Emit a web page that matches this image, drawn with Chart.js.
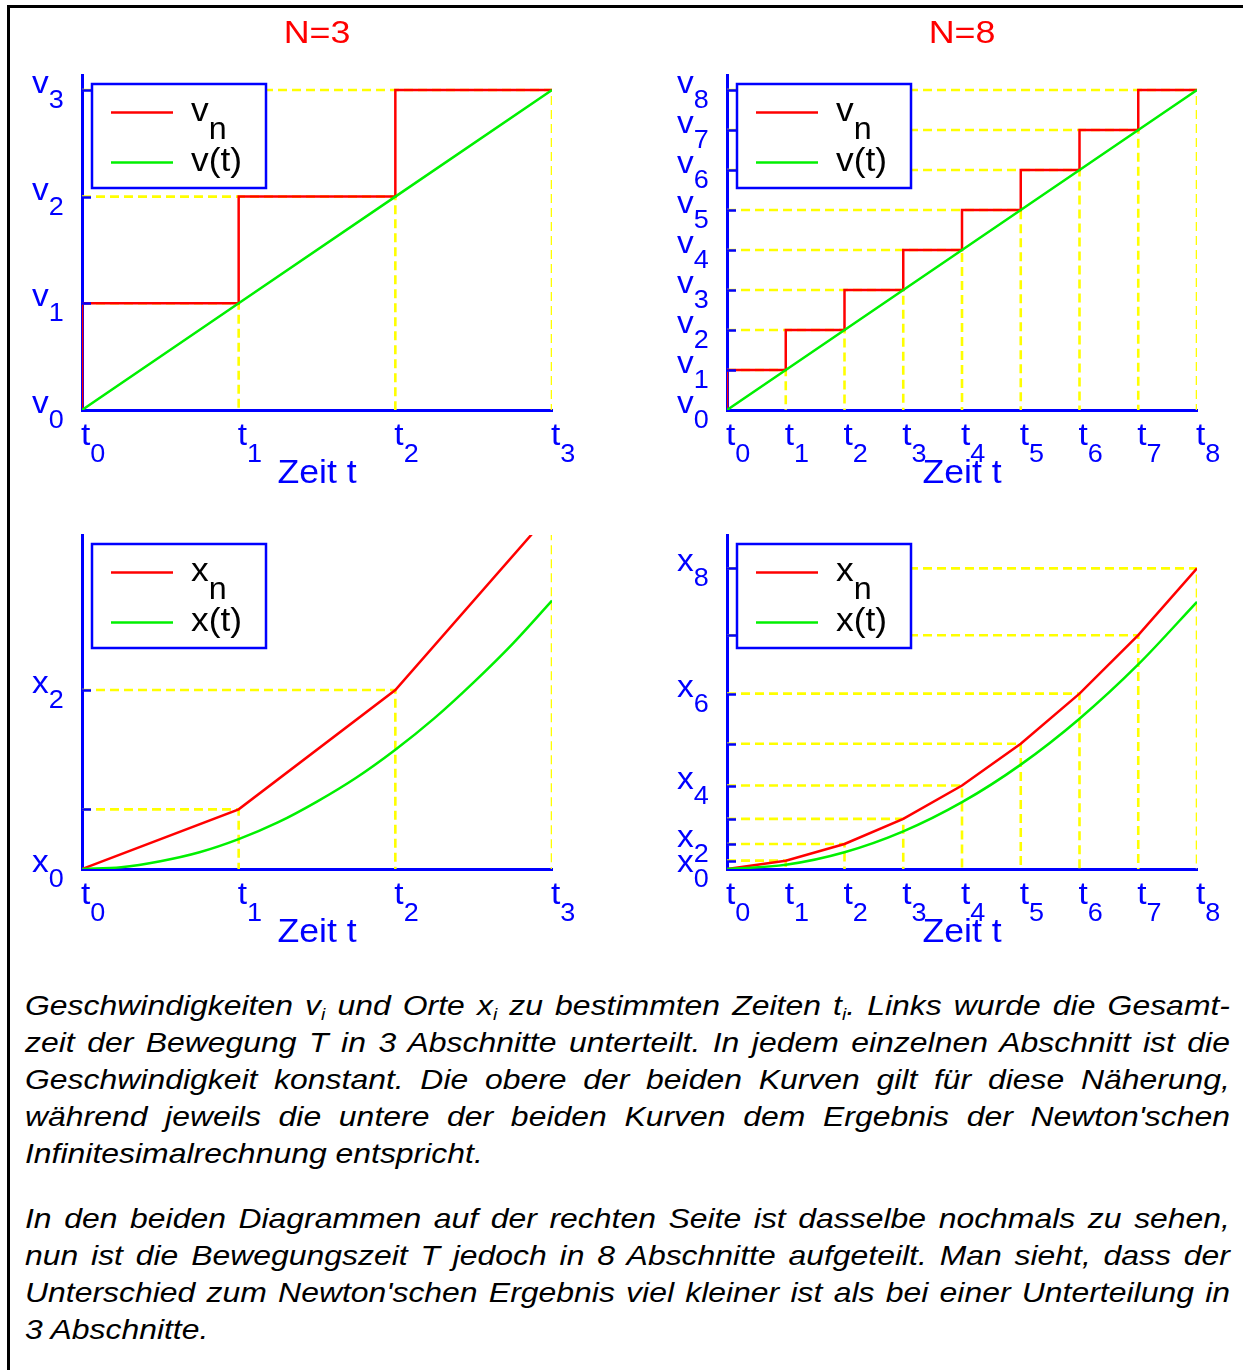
<!DOCTYPE html>
<html>
<head>
<meta charset="utf-8">
<title>Geschwindigkeiten und Orte</title>
<script src="https://cdn.jsdelivr.net/npm/chart.js@4.4.1/dist/chart.umd.min.js"></script>
<style>
  html, body { margin: 0; padding: 0; background: #fff; overflow: hidden; }
  body { width: 1243px; height: 1370px; position: relative; font-family: "Liberation Sans", Arial, sans-serif; }
  #frame { position: absolute; left: 7px; top: 5px; width: 1240px; height: 1370px;
           border-top: 3px solid #000; border-left: 3px solid #000; }
  canvas { position: absolute; }
  /* the original text is set a bit wider than plain Arial, hence the scaleX */
  #caption { position: absolute; left: 25px; top: 987px; width: 1057px;
             transform: scaleX(1.14); transform-origin: 0 0;
             font-style: italic; font-size: 28px; line-height: 37px; color: #000; }
  #caption .ln { text-align: justify; text-align-last: justify; }
  #caption .last { text-align: left; text-align-last: left; }
  #caption .gap { height: 28px; }
  #caption sub { font-size: 60%; line-height: 0; vertical-align: -0.3em; }
</style>
</head>
<body>
<div id="frame"></div>
<canvas id="vLeft" width="640" height="500" style="left:0;top:0"></canvas>
<canvas id="vRight" width="603" height="500" style="left:640px;top:0"></canvas>
<canvas id="xLeft" width="640" height="460" style="left:0;top:500px"></canvas>
<canvas id="xRight" width="603" height="460" style="left:640px;top:500px"></canvas>

<div id="caption">
  <div class="ln">Geschwindigkeiten v<sub>i</sub> und Orte x<sub>i</sub> zu bestimmten Zeiten t<sub>i</sub>. Links wurde die Gesamt-</div>
  <div class="ln">zeit der Bewegung T in 3 Abschnitte unterteilt. In jedem einzelnen Abschnitt ist die</div>
  <div class="ln">Geschwindigkeit konstant. Die obere der beiden Kurven gilt für diese Näherung,</div>
  <div class="ln">während jeweils die untere der beiden Kurven dem Ergebnis der Newton'schen</div>
  <div class="ln last">Infinitesimalrechnung entspricht.</div>
  <div class="gap"></div>
  <div class="ln">In den beiden Diagrammen auf der rechten Seite ist dasselbe nochmals zu sehen,</div>
  <div class="ln">nun ist die Bewegungszeit T jedoch in 8 Abschnitte aufgeteilt. Man sieht, dass der</div>
  <div class="ln">Unterschied zum Newton'schen Ergebnis viel kleiner ist als bei einer Unterteilung in</div>
  <div class="ln last">3 Abschnitte.</div>
</div>

<script>
// ---- data: N = 3 ----
const n3Times = [0, 1, 2, 3];
const n3TimeLabels = ['t0', 't1', 't2', 't3'];
const n3Speeds = [0, 1, 2, 3];
const n3SpeedLabels = ['v0', 'v1', 'v2', 'v3'];
const n3Positions = [0, 1, 3, 6];
const n3PositionLabels = ['x0', '', 'x2', ''];
const n3CurveTimes = [0, 0.25, 0.5, 0.75, 1, 1.25, 1.5, 1.75, 2, 2.25, 2.5, 2.75, 3];
const n3CurvePositions = [0, 0.03, 0.13, 0.28, 0.5, 0.78, 1.13, 1.53, 2, 2.53, 3.13, 3.78, 4.5];

// ---- data: N = 8 ----
const n8Times = [0, 1, 2, 3, 4, 5, 6, 7, 8];
const n8TimeLabels = ['t0', 't1', 't2', 't3', 't4', 't5', 't6', 't7', 't8'];
const n8Speeds = [0, 1, 2, 3, 4, 5, 6, 7, 8];
const n8SpeedLabels = ['v0', 'v1', 'v2', 'v3', 'v4', 'v5', 'v6', 'v7', 'v8'];
const n8Positions = [0, 1, 3, 6, 10, 15, 21, 28, 36];
const n8PositionLabels = ['x0', '', 'x2', '', 'x4', '', 'x6', '', 'x8'];
const n8CurveTimes = [0, 1, 2, 3, 4, 5, 6, 7, 8];
const n8CurvePositions = [0, 0.5, 2, 4.5, 8, 12.5, 18, 24.5, 32];

const BLUE = '#0000ff';
const RED = '#ff0000';
const GREEN = '#00f000';
const YELLOW = '#ffff00';
const FONT = '"Liberation Sans", Arial, sans-serif';

function zip(xs, ys) {
    return xs.map((x, i) => ({ x: x, y: ys[i] }));
}

// constant value on each interval: v(i+1) between t(i) and t(i+1)
function stepPoints(times, values) {
    const pts = [{ x: times[0], y: values[0] }];
    for (let i = 0; i < times.length - 1; i++) {
        pts.push({ x: times[i], y: values[i + 1] });
        pts.push({ x: times[i + 1], y: values[i + 1] });
    }
    return pts;
}

// dashed helper lines from the axes to each (t_i, value_i)
function guidePoints(times, values) {
    const pts = [];
    for (let i = 1; i < times.length; i++) {
        pts.push({ x: times[0], y: values[i] });
        pts.push({ x: times[i], y: values[i] });
        pts.push({ x: times[i], y: values[0] });
        pts.push({ x: times[i], y: null });
    }
    return pts;
}

// draws text slightly widened, returns the drawn width
function wideText(ctx, text, x, y, size, sx) {
    ctx.save();
    ctx.font = size + 'px ' + FONT;
    ctx.translate(x, y);
    ctx.scale(sx, 1);
    ctx.fillText(text, 0, 0);
    const w = ctx.measureText(text).width * sx;
    ctx.restore();
    return w;
}

// text with a subscript, e.g. "v3" -> v + sub 3
function drawSub(ctx, label, x, y, baseSize, subSize, subDrop, sx) {
    if (!label) return;
    const w = wideText(ctx, label[0], x, y, baseSize, sx);
    wideText(ctx, label.slice(1), x + w, y + subDrop, subSize, sx);
}

const figurePlugin = {
    id: 'figure',
    afterDatasetsDraw(chart, args, opts) {
        const ctx = chart.ctx;
        const area = chart.chartArea;
        const xs = chart.scales.x;
        const ys = chart.scales.y;
        ctx.save();

        // tick marks on the y axis, pointing inwards
        ctx.strokeStyle = BLUE;
        ctx.lineWidth = 2.5;
        opts.yValues.forEach(v => {
            if (v <= 0 || v > ys.max) return;
            const py = Math.round(ys.getPixelForValue(v)) + 0.5;
            ctx.beginPath();
            ctx.moveTo(area.left, py);
            ctx.lineTo(area.left + 9, py);
            ctx.stroke();
        });

        ctx.fillStyle = BLUE;
        ctx.textBaseline = 'alphabetic';
        ctx.textAlign = 'left';

        // y labels
        opts.yValues.forEach((v, i) => {
            if (v > ys.max) return;
            const py = ys.getPixelForValue(v);
            drawSub(ctx, opts.yLabels[i], area.left - 50, py + 3, 31, 25, 15, 1.08);
        });

        // x labels
        opts.xValues.forEach((t, i) => {
            const px = xs.getPixelForValue(t);
            drawSub(ctx, opts.xLabels[i], px - 1, area.bottom + 35, 31, 25, 17, 1.08);
        });

        // axis title
        ctx.textAlign = 'center';
        wideText(ctx, 'Zeit t', (area.left + area.right) / 2, area.bottom + 73, 33, 1.08);

        // panel title
        if (opts.title) {
            ctx.fillStyle = RED;
            wideText(ctx, opts.title, (area.left + area.right) / 2, 43, 32, 1.12);
        }

        // legend box
        const lx = area.left + 9, ly = area.top + 8;
        ctx.fillStyle = '#fff';
        ctx.fillRect(lx, ly, 176, 106);
        ctx.strokeStyle = BLUE;
        ctx.lineWidth = 2.5;
        ctx.strokeRect(lx + 1, ly + 1, 174, 104);

        ctx.lineWidth = 2.5;
        ctx.strokeStyle = RED;
        ctx.beginPath();
        ctx.moveTo(lx + 20, ly + 29.5);
        ctx.lineTo(lx + 82, ly + 29.5);
        ctx.stroke();
        ctx.strokeStyle = GREEN;
        ctx.beginPath();
        ctx.moveTo(lx + 20, ly + 79.5);
        ctx.lineTo(lx + 82, ly + 79.5);
        ctx.stroke();

        ctx.fillStyle = '#000';
        ctx.textAlign = 'left';
        drawSub(ctx, opts.legendStep, lx + 100, ly + 38, 34, 31, 18, 1.04);
        wideText(ctx, opts.legendCurve, lx + 100, ly + 88, 34, 1.04);

        ctx.restore();
    }
};

function makeChart(id, cfg) {
    const ctx = document.getElementById(id).getContext('2d');
    return new Chart(ctx, {
        type: 'line',
        data: {
            datasets: [
                {
                    data: cfg.curve,
                    borderColor: GREEN,
                    borderWidth: 2.5,
                    pointRadius: 0,
                    cubicInterpolationMode: cfg.smooth ? 'monotone' : 'default',
                    tension: 0
                },
                {
                    data: cfg.steps,
                    borderColor: RED,
                    borderWidth: 2.5,
                    pointRadius: 0,
                    tension: 0
                },
                {
                    data: cfg.guides,
                    borderColor: YELLOW,
                    borderWidth: 2.6,
                    borderDash: [9, 5],
                    pointRadius: 0,
                    spanGaps: false,
                    tension: 0
                }
            ]
        },
        options: {
            responsive: false,
            animation: false,
            events: [],
            layout: { padding: cfg.padding },
            plugins: {
                legend: { display: false },
                tooltip: { enabled: false },
                figure: cfg.labels
            },
            scales: {
                x: {
                    type: 'linear',
                    min: 0,
                    max: cfg.xMax,
                    grid: { display: false },
                    border: { color: BLUE, width: 3 },
                    ticks: { display: false },
                    afterFit: s => { s.height = 0; }
                },
                y: {
                    type: 'linear',
                    min: 0,
                    max: cfg.yMax,
                    grid: { display: false },
                    border: { color: BLUE, width: 3 },
                    ticks: { display: false },
                    afterFit: s => { s.width = 0; }
                }
            }
        },
        plugins: [figurePlugin]
    });
}

function initializeFigure() {
    makeChart('vLeft', {
        xMax: 3, yMax: 3.14,
        padding: { left: 82, top: 75, right: 88, bottom: 90 },
        curve: zip(n3Times, n3Speeds),
        steps: stepPoints(n3Times, n3Speeds),
        guides: guidePoints(n3Times, n3Speeds),
        labels: {
            title: 'N=3',
            yValues: n3Speeds, yLabels: n3SpeedLabels,
            xValues: n3Times, xLabels: n3TimeLabels,
            legendStep: 'vn', legendCurve: 'v(t)'
        }
    });

    makeChart('vRight', {
        xMax: 8, yMax: 8.375,
        padding: { left: 87, top: 75, right: 46, bottom: 90 },
        curve: zip(n8Times, n8Speeds),
        steps: stepPoints(n8Times, n8Speeds),
        guides: guidePoints(n8Times, n8Speeds),
        labels: {
            title: 'N=8',
            yValues: n8Speeds, yLabels: n8SpeedLabels,
            xValues: n8Times, xLabels: n8TimeLabels,
            legendStep: 'vn', legendCurve: 'v(t)'
        }
    });

    makeChart('xLeft', {
        xMax: 3, yMax: 5.6, smooth: true,
        padding: { left: 82, top: 35, right: 88, bottom: 91 },
        curve: zip(n3CurveTimes, n3CurvePositions),
        steps: zip(n3Times, n3Positions),
        guides: guidePoints(n3Times, n3Positions),
        labels: {
            title: '',
            yValues: n3Positions, yLabels: n3PositionLabels,
            xValues: n3Times, xLabels: n3TimeLabels,
            legendStep: 'xn', legendCurve: 'x(t)'
        }
    });

    makeChart('xRight', {
        xMax: 8, yMax: 40, smooth: true,
        padding: { left: 87, top: 35, right: 46, bottom: 91 },
        curve: zip(n8CurveTimes, n8CurvePositions),
        steps: zip(n8Times, n8Positions),
        guides: guidePoints(n8Times, n8Positions),
        labels: {
            title: '',
            yValues: n8Positions, yLabels: n8PositionLabels,
            xValues: n8Times, xLabels: n8TimeLabels,
            legendStep: 'xn', legendCurve: 'x(t)'
        }
    });
}

if (document.readyState === 'loading') {
    document.addEventListener('DOMContentLoaded', initializeFigure);
} else {
    initializeFigure();
}
</script>
</body>
</html>
